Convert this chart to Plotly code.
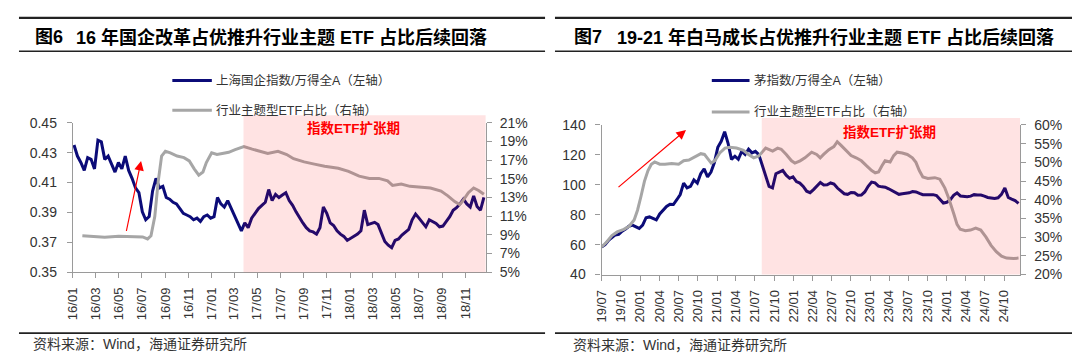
import pandas as pd
import plotly.graph_objects as go

# ---------------- data ----------------
# Fig 6 (left): 上海国企指数/万得全A (left axis), evenly spaced observations 2016-01-04 .. 2018-12-20
left_blue = [
    0.4351, 0.4277, 0.4234, 0.4181, 0.4266, 0.4255, 0.4191, 0.4383, 0.4372, 0.4255,
    0.4277, 0.4223, 0.4170, 0.4234, 0.4191, 0.4277, 0.4181, 0.4128, 0.4064, 0.4032,
    0.3904, 0.3851, 0.3872, 0.4043, 0.4128, 0.4064, 0.4074, 0.4000, 0.3989, 0.3968,
    0.3957, 0.3926, 0.3894, 0.3883, 0.3872, 0.3851, 0.3862, 0.3840, 0.3872, 0.3883,
    0.3862, 0.3872, 0.4000, 0.3957, 0.3936, 0.3979, 0.3926, 0.3872, 0.3830, 0.3777,
    0.3830, 0.3798, 0.3862, 0.3894, 0.3926, 0.3947, 0.3968, 0.4053, 0.3979, 0.4021,
    0.4000, 0.4017, 0.4032, 0.3979, 0.3947, 0.3904, 0.3862, 0.3830, 0.3798, 0.3777,
    0.3770, 0.3755, 0.3798, 0.3936, 0.3894, 0.3830, 0.3813, 0.3777, 0.3755, 0.3740,
    0.3713, 0.3728, 0.3740, 0.3755, 0.3777, 0.3915, 0.3819, 0.3826, 0.3834, 0.3819,
    0.3766, 0.3706, 0.3681, 0.3664, 0.3713, 0.3723, 0.3749, 0.3770, 0.3787, 0.3851,
    0.3889, 0.3862, 0.3830, 0.3804, 0.3851, 0.3840, 0.3826, 0.3804, 0.3809, 0.3840,
    0.3872, 0.3915, 0.3932, 0.3957, 0.3989, 0.3957, 0.3936, 0.4011, 0.3940, 0.3915,
    0.4000,
]
left_blue_start, left_blue_end = "2016-01-04", "2018-12-20"

# 行业主题型ETF占比 (right axis, %)
left_gray_dates = [
    "2016-01-26", "2016-02-19", "2016-03-25", "2016-05-01", "2016-06-06", "2016-07-03",
    "2016-07-16", "2016-07-25", "2016-08-04", "2016-08-13", "2016-08-22", "2016-09-01",
    "2016-09-14", "2016-10-02", "2016-10-20", "2016-11-03", "2016-11-16", "2016-11-28",
    "2016-12-09", "2016-12-18", "2017-01-01", "2017-01-15", "2017-01-29", "2017-02-15",
    "2017-03-04", "2017-03-27", "2017-04-18", "2017-05-06", "2017-05-29", "2017-06-25",
    "2017-07-18", "2017-08-05", "2017-09-02", "2017-09-29", "2017-10-26", "2017-12-01",
    "2017-12-28", "2018-01-25", "2018-02-21", "2018-03-18", "2018-04-10", "2018-04-23",
    "2018-05-16", "2018-06-08", "2018-07-05", "2018-08-01", "2018-08-29", "2018-09-16",
    "2018-10-04", "2018-10-17", "2018-10-26", "2018-11-09", "2018-11-23", "2018-12-06",
    "2018-12-20",
]
left_gray = [
    8.91, 8.81, 8.74, 8.85, 8.81, 8.78, 8.57, 8.91, 10.96, 14.70, 17.43, 17.94,
    17.77, 17.43, 17.26, 16.91, 16.06, 15.38, 15.72, 16.74, 17.77, 17.60, 17.70, 17.83,
    18.11, 18.45, 18.17, 17.94, 17.70, 17.94, 17.60, 17.15, 16.81, 16.57, 16.34, 16.13,
    15.79, 15.28, 15.04, 15.04, 14.77, 14.29, 14.43, 14.19, 14.09, 14.02, 13.68, 13.17,
    12.56, 12.25, 12.66, 13.51, 14.02, 13.75, 13.34,
]

# Fig 7 (right): 茅指数/万得全A (left axis), evenly spaced observations 2019-07-01 .. 2024-12-08
right_blue = [
    58.5, 60.0, 62.8, 64.9, 66.5, 66.8, 69.0, 70.5, 72.3, 73.0,
    71.8, 70.8, 73.0, 78.0, 78.5, 77.5, 76.5, 80.5, 83.0, 85.5,
    87.0, 86.8, 90.0, 93.5, 101.1, 97.9, 98.9, 103.2, 101.1, 107.4,
    110.6, 105.3, 108.5, 114.9, 125.0, 129.0, 135.5, 127.7, 117.0, 119.1,
    117.0, 122.3, 120.2, 123.8, 121.3, 122.3, 120.2, 112.8, 106.4, 98.9,
    97.9, 107.4, 108.5, 109.6, 106.4, 104.3, 105.3, 102.1, 101.1, 98.9,
    95.7, 94.7, 96.8, 98.9, 101.5, 99.8, 100.0, 101.2, 100.5, 97.8,
    95.7, 94.0, 93.6, 94.8, 94.7, 93.0, 93.1, 95.2, 99.0, 101.8,
    101.3, 99.1, 98.6, 98.4, 97.3, 96.2, 94.8, 93.6, 94.0, 94.3,
    94.6, 95.5, 95.2, 94.2, 93.4, 93.4, 93.4, 93.4, 92.8, 90.1,
    87.8, 88.3, 89.9, 93.0, 94.5, 92.5, 92.3, 92.0, 92.4, 93.4,
    93.1, 93.1, 92.4, 91.5, 91.2, 90.8, 91.3, 93.6, 97.9, 91.5,
    90.4, 89.4, 87.5,
]
right_blue_start, right_blue_end = "2019-07-01", "2024-12-08"

right_gray_dates = [
    "2019-07-01", "2019-07-25", "2019-08-19", "2019-09-13", "2019-10-15", "2019-11-09",
    "2019-12-03", "2019-12-19", "2020-01-05", "2020-01-21", "2020-02-07", "2020-02-23",
    "2020-03-10", "2020-04-03", "2020-04-28", "2020-05-30", "2020-07-02", "2020-07-26",
    "2020-08-20", "2020-09-22", "2020-10-16", "2020-11-02", "2020-11-18", "2020-12-04",
    "2020-12-21", "2021-01-14", "2021-02-08", "2021-03-02", "2021-04-04", "2021-05-07",
    "2021-05-31", "2021-06-25", "2021-07-19", "2021-08-05", "2021-08-21", "2021-09-07",
    "2021-09-23", "2021-10-17", "2021-11-03", "2021-11-27", "2021-12-22", "2022-01-07",
    "2022-02-01", "2022-02-24", "2022-03-28", "2022-04-21", "2022-05-08", "2022-05-24",
    "2022-06-18", "2022-07-12", "2022-07-28", "2022-08-14", "2022-09-08", "2022-10-02",
    "2022-10-26", "2022-11-20", "2022-12-14", "2023-01-08", "2023-01-25", "2023-02-10",
    "2023-02-26", "2023-03-13", "2023-04-06", "2023-04-23", "2023-05-09", "2023-06-03",
    "2023-06-27", "2023-07-21", "2023-08-07", "2023-08-23", "2023-09-09", "2023-10-03",
    "2023-11-05", "2023-11-29", "2023-12-23", "2024-01-09", "2024-02-03", "2024-02-19",
    "2024-03-05", "2024-03-30", "2024-04-23", "2024-05-18", "2024-06-11", "2024-07-06",
    "2024-07-30", "2024-08-24", "2024-09-18", "2024-10-12", "2024-11-14", "2024-12-08",
]
right_gray = [
    27.4, 28.7, 30.4, 31.4, 32.1, 32.9, 34.6, 37.2, 41.0, 44.9, 47.8, 49.5,
    50.1, 49.5, 49.5, 49.7, 49.5, 50.4, 50.6, 51.5, 52.3, 52.1, 50.8, 49.8,
    50.4, 52.5, 53.8, 54.0, 53.8, 53.2, 52.1, 51.2, 51.7, 52.9, 53.8, 53.4,
    53.0, 53.8, 53.5, 52.1, 50.4, 49.8, 50.4, 51.2, 52.7, 52.1, 51.2, 52.1,
    53.4, 54.2, 55.5, 54.6, 53.2, 51.8, 51.2, 50.4, 49.1, 47.8, 47.2, 47.4,
    49.1, 50.4, 50.1, 51.8, 52.7, 52.5, 52.1, 51.2, 50.0, 47.8, 46.1, 45.7,
    45.9, 45.5, 43.1, 40.6, 36.3, 33.4, 32.1, 31.7, 31.9, 32.4, 31.9, 30.0,
    27.8, 26.1, 24.9, 24.4, 24.3, 24.4,
]

# axis ranges / periods
left_xrange = ["2016-01-01", "2018-12-25"]
left_shade_start = "2017-03-26"
right_xrange = ["2019-07-01", "2024-12-16"]
right_shade_start = "2021-08-02"

titles = ["图6", "16 年国企改革占优推升行业主题 ETF 占比后续回落",
          "图7", "19-21 年白马成长占优推升行业主题 ETF 占比后续回落"]
legend_left = ["上海国企指数/万得全A（左轴）", "行业主题型ETF占比（右轴）"]
legend_right = ["茅指数/万得全A（左轴）", "行业主题型ETF占比（右轴）"]
shade_label = "指数ETF扩张期"
source_text = "资料来源：Wind，海通证券研究所"

# ---------------- styling ----------------
W, H = 1080, 357
FONT = "Liberation Sans, Noto Sans CJK SC, sans-serif"
BLUE = "#0B0B78"
GRAY = "#A6A6A6"
AXIS = "#9A9A9A"
TXT = "#333333"


def px(x):
    return x / W


def py(y):
    return 1 - y / H


left_blue_dates = pd.date_range(left_blue_start, left_blue_end, periods=len(left_blue))
right_blue_dates = pd.date_range(right_blue_start, right_blue_end, periods=len(right_blue))

fig = go.Figure()
fig.add_trace(go.Scatter(x=left_gray_dates, y=left_gray, xaxis="x", yaxis="y2", mode="lines",
                         line=dict(color=GRAY, width=3), showlegend=False, hoverinfo="skip"))
fig.add_trace(go.Scatter(x=left_blue_dates, y=left_blue, xaxis="x", yaxis="y", mode="lines",
                         line=dict(color=BLUE, width=3), showlegend=False, hoverinfo="skip"))
fig.add_trace(go.Scatter(x=right_gray_dates, y=right_gray, xaxis="x2", yaxis="y4", mode="lines",
                         line=dict(color=GRAY, width=3), showlegend=False, hoverinfo="skip"))
fig.add_trace(go.Scatter(x=right_blue_dates, y=right_blue, xaxis="x2", yaxis="y3", mode="lines",
                         line=dict(color=BLUE, width=3), showlegend=False, hoverinfo="skip"))

tickfont = dict(family=FONT, size=14, color=TXT)
xtickfont = dict(family=FONT, size=13, color=TXT)
common_axis = dict(showgrid=False, zeroline=False, showline=True, linecolor=AXIS, linewidth=1.3,
                   ticks="outside", ticklen=5, tickcolor=AXIS, tickwidth=1.2)

L_DOM_X = [px(57.3), px(473.3)]
L_DOM_Y = [py(268.3), py(111.7)]
R_DOM_X = [px(590), px(1011.7)]
R_DOM_Y = [py(270.7), py(114)]

fig.update_layout(
    width=W, height=H, margin=dict(l=0, r=0, t=0, b=0),
    paper_bgcolor="white", plot_bgcolor="white", showlegend=False,
    xaxis=dict(domain=L_DOM_X, anchor="y", type="date", range=left_xrange,
               tick0="2016-01-01", dtick="M2", tickformat="%y/%m", tickangle=-90,
               tickfont=xtickfont, ticklabelstandoff=4, **common_axis),
    yaxis=dict(domain=L_DOM_Y, anchor="x", range=[0.35, 0.45], tick0=0.35, dtick=0.02,
               tickformat=".2f", tickfont=tickfont, ticklabelstandoff=7, **common_axis),
    yaxis2=dict(overlaying="y", anchor="x", side="right", range=[5, 21], tick0=5, dtick=2,
                ticksuffix="%", tickfont=tickfont, ticklabelstandoff=5, **common_axis),
    xaxis2=dict(domain=R_DOM_X, anchor="y3", type="date", range=right_xrange,
                tick0="2019-07-01", dtick="M3", tickformat="%y/%m", tickangle=-90,
                tickfont=xtickfont, ticklabelstandoff=4, **common_axis),
    yaxis3=dict(domain=R_DOM_Y, anchor="x2", range=[40, 140], tick0=40, dtick=20,
                tickfont=tickfont, ticklabelstandoff=7, **common_axis),
    yaxis4=dict(overlaying="y3", anchor="x2", side="right", range=[20, 60], tick0=20, dtick=5,
                ticksuffix="%", tickfont=tickfont, ticklabelstandoff=5, **common_axis),
)

shapes = []
# rules
for x0, x1 in [(3, 533), (543, 1075)]:
    shapes.append(dict(type="line", xref="paper", yref="paper", x0=px(x0), x1=px(x1),
                       y0=py(2), y1=py(2), line=dict(color="#222222", width=2.2)))
    shapes.append(dict(type="line", xref="paper", yref="paper", x0=px(x0), x1=px(x1),
                       y0=py(37), y1=py(37), line=dict(color="#222222", width=1.5)))
    shapes.append(dict(type="line", xref="paper", yref="paper", x0=px(x0), x1=px(x1),
                       y0=py(332), y1=py(332), line=dict(color="#222222", width=1.8)))
# shaded periods
shapes.append(dict(type="rect", xref="x", yref="paper", x0=left_shade_start, x1=left_xrange[1],
                   y0=py(268.3), y1=py(104), fillcolor="rgba(255,0,0,0.11)",
                   line=dict(width=0), layer="above"))
shapes.append(dict(type="rect", xref="x2", yref="paper", x0=right_shade_start, x1=right_xrange[1],
                   y0=py(270.7), y1=py(106.7), fillcolor="rgba(255,0,0,0.11)",
                   line=dict(width=0), layer="above"))
# legend samples
for (x0, x1, y, c) in [(157.5, 197.3, 67.5, BLUE), (157.5, 197.3, 98.6, GRAY),
                       (701, 739, 67.5, BLUE), (701, 739, 100.4, GRAY)]:
    shapes.append(dict(type="line", xref="paper", yref="paper", x0=px(x0), x1=px(x1),
                       y0=py(y), y1=py(y), line=dict(color=c, width=3)))
fig.update_layout(shapes=shapes)

ann = []


def text(x, y, s, size, color=TXT, bold=False, xanchor="left"):
    ann.append(dict(x=px(x), y=py(y), xref="paper", yref="paper",
                    text=f"<b>{s}</b>" if bold else s, showarrow=False,
                    xanchor=xanchor, yanchor="middle",
                    font=dict(family=FONT, size=size, color=color)))


text(17, 22, titles[0], 18, "#000000", True)
text(58, 22, titles[1], 18, "#000000", True)
text(560.5, 22, titles[2], 18, "#000000", True)
text(603.5, 22, titles[3], 18, "#000000", True)
text(199, 67.5, legend_left[0], 12.5)
text(199, 98.6, legend_left[1], 12.5)
text(741, 67.5, legend_right[0], 12.5)
text(741, 100.4, legend_right[1], 12.5)
text(340, 117, shade_label, 13.5, "#FF0000", True, "center")
text(880, 121, shade_label, 13.5, "#FF0000", True, "center")
text(15, 343, source_text, 14)
text(559, 344, source_text, 14)

# red arrows
for (hx, hy, tx, ty) in [(126, 151.7, 111, 223.3), (675, 119.3, 606, 177.7)]:
    ann.append(dict(x=px(hx), y=py(hy), xref="paper", yref="paper", ax=tx - hx, ay=ty - hy,
                    axref="pixel", ayref="pixel", text="", showarrow=True,
                    arrowhead=2, arrowsize=1.6, arrowwidth=1.2, arrowcolor="#FF0000", standoff=0))
fig.update_layout(annotations=ann)

fig.write_html("out.html")
